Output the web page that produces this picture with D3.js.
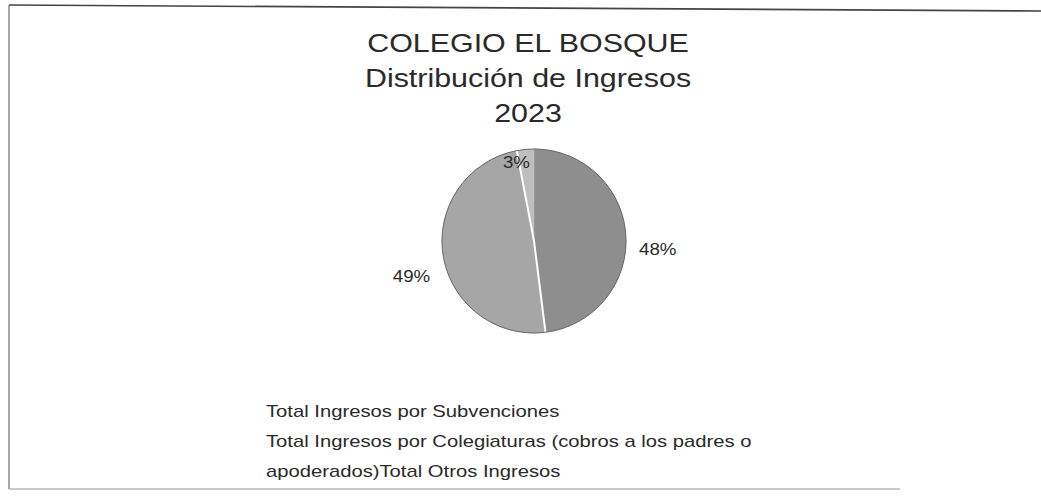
<!DOCTYPE html>
<html>
<head>
<meta charset="utf-8">
<script src="https://cdn.jsdelivr.net/npm/d3@7"></script>
<style>
  body { margin: 0; background: #fff; }
  text { font-family: "Liberation Sans", Arial, sans-serif; fill: #2a2a2a; }
</style>
</head>
<body>
<div id="chart"></div>
<script>
// data
const titleLines = ['COLEGIO EL BOSQUE', 'Distribución de Ingresos', '2023'];
const categories = [
  'Total Ingresos por Subvenciones',
  'Total Ingresos por Colegiaturas (cobros a los padres o apoderados)',
  'Total Otros Ingresos'
];
const shares = [48, 49, 3];
// legend as it wraps in the original
const legendLines = [
  'Total Ingresos por Subvenciones',
  'Total Ingresos por Colegiaturas (cobros a los padres o',
  'apoderados)Total Otros Ingresos'
];

const config = {
  width: 1041,
  height: 503,
  cx: 534,
  cy: 241,
  radius: 92,
  stretch: 1.17   // scan is wider than tall, text looks stretched
};

const svg = d3.select('#chart').append('svg')
    .attr('width', config.width)
    .attr('height', config.height);

// frame of the scanned chart area
const frame = svg.append('g').attr('fill', 'none');
frame.append('line').attr('x1', 9).attr('y1', 5).attr('x2', config.width).attr('y2', 11)
    .attr('stroke', '#444').attr('stroke-width', 1.6);
frame.append('line').attr('x1', 9).attr('y1', 5).attr('x2', 9).attr('y2', 489)
    .attr('stroke', '#777').attr('stroke-width', 1.3);
frame.append('line').attr('x1', 9).attr('y1', 489).attr('x2', 900).attr('y2', 489)
    .attr('stroke', '#999').attr('stroke-width', 1.2);

// title
svg.append('g').selectAll('text')
    .data(titleLines)
  .join('text')
    .attr('text-anchor', 'middle')
    .attr('font-size', 26)
    .attr('transform', (d, i) => `translate(528,${52 + i * 35}) scale(${config.stretch},1)`)
    .text(d => d);

// pie
const color = d3.scaleOrdinal()
    .domain(categories)
    .range(['#8e8e8e', '#a6a6a6', '#bebebe']);

const pie = d3.pie().sort(null).value(d => d.value);
const arcs = pie(categories.map((c, i) => ({name: c, value: shares[i]})));

const arc = d3.arc().innerRadius(0).outerRadius(config.radius);
const outerLabelArc = d3.arc().innerRadius(124).outerRadius(124);
const innerLabelArc = d3.arc().innerRadius(80).outerRadius(80);

const g = svg.append('g')
    .attr('transform', `translate(${config.cx},${config.cy})`);

g.selectAll('path')
    .data(arcs)
  .join('path')
    .attr('d', arc)
    .attr('fill', d => color(d.data.name))
    .attr('stroke', d => color(d.data.name))
    .attr('stroke-width', 0.5);

// white gap only shows on both edges of the largest slice
const big = arcs[1];
g.selectAll('line.gap')
    .data([big.startAngle, big.endAngle])
  .join('line')
    .attr('class', 'gap')
    .attr('x1', 0).attr('y1', 0)
    .attr('x2', a => d3.pointRadial(a, config.radius)[0])
    .attr('y2', a => d3.pointRadial(a, config.radius)[1])
    .attr('stroke', '#fff')
    .attr('stroke-width', 2);

g.append('circle')
    .attr('r', config.radius)
    .attr('fill', 'none')
    .attr('stroke', '#6a6a6a')
    .attr('stroke-width', 1);

g.selectAll('text.pct')
    .data(arcs)
  .join('text')
    .attr('class', 'pct')
    .attr('text-anchor', 'middle')
    .attr('font-size', 16)
    .attr('transform', d => {
      const small = d.data.value < 5;
      const [x, y] = small ? innerLabelArc.centroid(d) : outerLabelArc.centroid(d);
      return `translate(${x - (small ? 10 : 0)},${y + (small ? 7 : 22)}) scale(${config.stretch},1)`;
    })
    .text(d => d.data.value + '%');

// legend (no swatches visible in the scan)
svg.append('g').selectAll('text')
    .data(legendLines)
  .join('text')
    .attr('font-size', 17)
    .attr('transform', (d, i) => `translate(266,${417 + i * 30}) scale(1.19,1)`)
    .text(d => d);
</script>
</body>
</html>
